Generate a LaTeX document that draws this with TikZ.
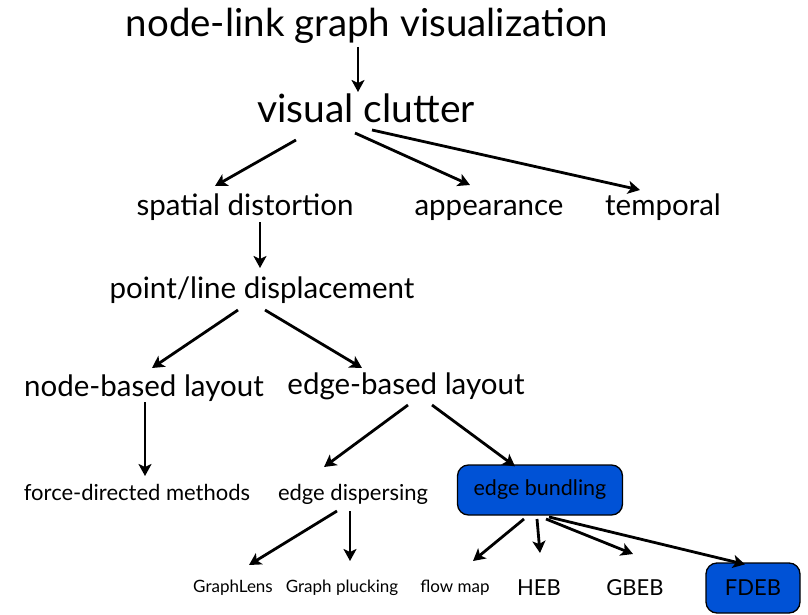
\documentclass[tikz,border=0pt]{standalone}
\usepackage{fontspec}
\setmainfont{Lato}
\usepackage{tikz}
\usetikzlibrary{arrows.meta}
\usetikzlibrary{calc}
\definecolor{bundleblue}{RGB}{0,82,214}
\tikzstyle{line} = [draw, -{Stealth[length=12pt,width=13pt,inset=3pt]}, line width=2.8pt]
\tikzstyle{bluebox} = [draw, line width=1.3pt, fill=bundleblue, rounded corners=11pt, minimum height=50pt, anchor=center]

\begin{document}
\begin{tikzpicture}[x=1pt,y=-1pt]
	\tikzstyle{every node}=[inner sep=0pt, anchor=base]
	\useasboundingbox (0,0) rectangle (808,615);

	% ------------------- Levels ------------------- %
	\node (title) at (367,37) {\fontsize{38.5}{40}\selectfont node-link graph visualization};
	\node (clutter) at (366,123) {\fontsize{39}{40}\selectfont visual clutter};

	\node (spatial) at (245,215) {\fontsize{29.5}{32}\selectfont spatial distortion};
	\node (appear) at (489,215) {\fontsize{29.5}{32}\selectfont appearance};
	\node (temporal) at (663,215) {\fontsize{29.5}{32}\selectfont temporal};

	\node (point) at (262,298) {\fontsize{29.5}{32}\selectfont point/line displacement};

	\node (nodebased) at (144,396) {\fontsize{29.5}{32}\selectfont node-based layout};
	\node (edgebased) at (406,394) {\fontsize{29.5}{32}\selectfont edge-based layout};

	\node (force) at (137,500) {\fontsize{22}{24}\selectfont force-directed methods};
	\node (disperse) at (353,500) {\fontsize{22}{24}\selectfont edge dispersing};
	\node[bluebox, minimum width=165pt] (bundle) at (540,490) {\fontsize{21.5}{24}\selectfont edge bundling};

	\node (lens) at (233,592) {\fontsize{17}{19}\selectfont GraphLens};
	\node (pluck) at (342,592) {\fontsize{17}{19}\selectfont Graph plucking};
	\node (flow) at (455,592) {\fontsize{17}{19}\selectfont flow map};
	\node (heb) at (539,595) {\fontsize{22}{24}\selectfont HEB};
	\node (gbeb) at (635,595) {\fontsize{22}{24}\selectfont GBEB};
	\node[bluebox, minimum width=94pt] (fdeb) at (753,588) {\fontsize{22}{24}\selectfont FDEB};

	% ------------------- Arrows ------------------- %
	\draw[line] ($(title.base)+(-9,10)$) -- ($(clutter.base)+(-8,-31)$);

	\draw[line] ($(clutter.base)+(-70,17)$) -- ($(spatial.base)+(-30,-29)$);
	\draw[line] ($(clutter.base)+(-11,10)$) -- ($(appear.base)+(-19,-30)$);
	\draw[line] ($(clutter.base)+(6,7)$) -- ($(temporal.base)+(-23,-25)$);

	\draw[line] ($(spatial.base)+(15,7)$) -- ($(point.base)+(-2,-30)$);

	\draw[line] ($(point.base)+(-24,12)$) -- ($(nodebased.base)+(8,-28)$);
	\draw[line] ($(point.base)+(3,12)$) -- ($(edgebased.base)+(-44,-26)$);

	\draw[line] ($(nodebased.base)+(1,6)$) -- ($(force.base)+(8,-24)$);
	\draw[line] ($(edgebased.base)+(2,11)$) -- ($(disperse.base)+(-29,-33)$);
	\draw[line] ($(edgebased.base)+(26,11)$) -- ($(bundle.north)+(-25,2)$);

	\draw[line] ($(disperse.base)+(-16,11)$) -- ($(lens.base)+(16,-27)$);
	\draw[line] ($(disperse.base)+(-3,11)$) -- ($(pluck.base)+(8,-31)$);

	\draw[line] ($(bundle)+(-16,29)$) -- ($(flow.base)+(18,-31)$);
	\draw[line] ($(bundle)+(-3,29)$) -- ($(heb.base)+(1,-42)$);
	\draw[line] ($(bundle)+(6,29)$) -- ($(gbeb.base)+(-2,-41)$);
	\draw[line] ($(bundle)+(9,27)$) -- ($(fdeb.north)+(-8,2)$);

\end{tikzpicture}
\end{document}
